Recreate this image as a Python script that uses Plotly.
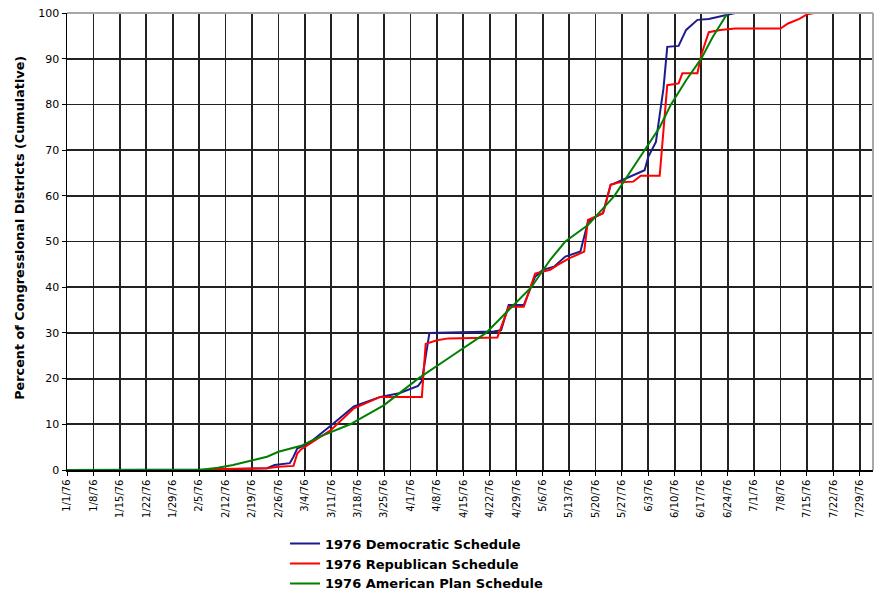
import pandas as pd
import plotly.graph_objects as go

# ---- data ----
tick_labels = ["1/1/76", "1/8/76", "1/15/76", "1/22/76", "1/29/76", "2/5/76", "2/12/76",
               "2/19/76", "2/26/76", "3/4/76", "3/11/76", "3/18/76", "3/25/76", "4/1/76",
               "4/8/76", "4/15/76", "4/22/76", "4/29/76", "5/6/76", "5/13/76", "5/20/76",
               "5/27/76", "6/3/76", "6/10/76", "6/17/76", "6/24/76", "7/1/76", "7/8/76",
               "7/15/76", "7/22/76", "7/29/76"]

dem_dates = ["1976-01-01", "1976-02-10", "1976-02-23", "1976-02-25", "1976-02-29", "1976-03-01",
             "1976-03-02", "1976-03-05", "1976-03-11", "1976-03-17", "1976-03-24", "1976-03-29",
             "1976-04-03", "1976-04-04", "1976-04-06", "1976-04-23", "1976-04-25", "1976-04-27",
             "1976-05-01", "1976-05-04", "1976-05-06", "1976-05-09", "1976-05-12", "1976-05-16",
             "1976-05-18", "1976-05-20", "1976-05-22", "1976-05-24", "1976-05-25", "1976-05-28",
             "1976-06-02", "1976-06-03", "1976-06-05", "1976-06-06", "1976-06-07", "1976-06-08",
             "1976-06-11", "1976-06-13", "1976-06-16", "1976-06-19", "1976-06-24", "1976-06-26",
             "1976-08-01"]
dem_values = [0, 0.1, 0.4, 1.1, 1.5, 2.9,
              4.7, 5.8, 9.8, 13.9, 16.0, 16.8,
              18.4, 19.5, 30.0, 30.3, 30.6, 36.1,
              36.1, 42.3, 43.8, 44.5, 46.7, 47.8,
              54.3, 55.4, 56.2, 62.4, 62.7, 63.8,
              65.6, 68.6, 71.8, 77.7, 83.5, 92.6,
              92.8, 96.3, 98.5, 98.7, 99.6, 100,
              100]

rep_dates = ["1976-01-01", "1976-02-08", "1976-02-10", "1976-02-23", "1976-02-26", "1976-03-01",
             "1976-03-02", "1976-03-03", "1976-03-11", "1976-03-17", "1976-03-24", "1976-04-04",
             "1976-04-05", "1976-04-08", "1976-04-11", "1976-04-24", "1976-04-27", "1976-05-01",
             "1976-05-04", "1976-05-08", "1976-05-10", "1976-05-13", "1976-05-16", "1976-05-17",
             "1976-05-18", "1976-05-20", "1976-05-22", "1976-05-24", "1976-05-26", "1976-05-30",
             "1976-06-01", "1976-06-06", "1976-06-08", "1976-06-11", "1976-06-12", "1976-06-16",
             "1976-06-17", "1976-06-19", "1976-06-22", "1976-06-26", "1976-07-08", "1976-07-10",
             "1976-07-13", "1976-07-15", "1976-07-17", "1976-08-01"]
rep_values = [0, 0, 0.2, 0.4, 0.7, 0.9,
              3.6, 4.5, 8.8, 13.5, 16.0, 16.0,
              27.6, 28.4, 28.8, 29.0, 35.7, 35.7,
              43.0, 43.8, 44.9, 46.3, 47.4, 47.8,
              54.7, 55.4, 56.2, 62.4, 62.9, 63.1,
              64.4, 64.4, 84.2, 84.6, 86.8, 86.8,
              90.8, 95.8, 96.3, 96.6, 96.6, 97.7,
              98.7, 99.7, 100, 100]

amer_dates = ["1976-01-01", "1976-02-05", "1976-02-10", "1976-02-14", "1976-02-20", "1976-02-23",
              "1976-02-26", "1976-03-03", "1976-03-08", "1976-03-16", "1976-03-25", "1976-04-03",
              "1976-04-12", "1976-04-21", "1976-04-27", "1976-05-03", "1976-05-08", "1976-05-12",
              "1976-05-18", "1976-05-25", "1976-05-29", "1976-06-02", "1976-06-06", "1976-06-09",
              "1976-06-13", "1976-06-17", "1976-06-20", "1976-06-24", "1976-08-01"]
amer_values = [0, 0, 0.5, 1.1, 2.3, 2.9,
               4.0, 5.3, 7.3, 10.0, 14.2, 20.0,
               25.0, 30.0, 35.0, 40.0, 46.0, 50.0,
               53.6, 60.0, 65.0, 70.0, 75.0, 80.0,
               85.3, 90.0, 94.7, 100, 100]

series_names = ["1976 Democratic Schedule", "1976 Republican Schedule", "1976 American Plan Schedule"]
series_colors = ["#1c1c8c", "#ff0000", "#008000"]
y_title = "Percent of Congressional Districts (Cumulative)"

tick_vals = pd.to_datetime(tick_labels, format="%m/%d/%y")

# ---- figure ----
fig = go.Figure()
for name, color, xs, ys in zip(series_names, series_colors,
                               [dem_dates, rep_dates, amer_dates],
                               [dem_values, rep_values, amer_values]):
    fig.add_trace(go.Scatter(x=pd.to_datetime(xs), y=ys, mode="lines", name=name,
                             line=dict(color=color, width=2)))

font_family = "DejaVu Sans, Verdana, sans-serif"
fig.update_layout(
    width=876, height=594,
    margin=dict(l=67, r=3, t=13, b=124, autoexpand=False),
    paper_bgcolor="white", plot_bgcolor="white",
    font=dict(family=font_family, color="black", size=11),
    showlegend=True,
    legend=dict(orientation="v", x=0.2705, xanchor="left", xref="paper",
                y=0.110, yanchor="top", yref="container",
                font=dict(size=13, family=font_family, weight="bold"),
                bgcolor="rgba(0,0,0,0)", tracegroupgap=0),
    xaxis=dict(
        type="date",
        range=["1976-01-01", "1976-08-01 12:00"],
        tickvals=tick_vals, ticktext=tick_labels,
        tickangle=-90, tickfont=dict(size=10),
        showgrid=True, gridcolor="#222222", gridwidth=1.8,
        showline=True, linecolor="black", linewidth=1.5,
        ticks="outside", ticklen=4, tickcolor="black",
        zeroline=False, automargin=False,
    ),
    yaxis=dict(
        range=[0, 100], dtick=10, tick0=0,
        tickfont=dict(size=11),
        showgrid=True, gridcolor="#222222", gridwidth=1.8,
        showline=True, linecolor="black", linewidth=1.5,
        ticks="outside", ticklen=4, tickcolor="black",
        zeroline=False, automargin=False,
    ),
)

# y axis title as a rotated annotation (placed slightly above plot centre like the original)
fig.add_annotation(text=y_title, xref="paper", yref="paper", x=0, y=0.53,
                   xanchor="center", yanchor="middle", xshift=-47, textangle=-90,
                   showarrow=False, font=dict(size=12.8, weight="bold", family=font_family))

# grey plot-area border on top and right
fig.add_shape(type="line", xref="paper", yref="paper", x0=0, x1=1, y0=1, y1=1,
              line=dict(color="#a8a8a8", width=2), layer="above")
fig.add_shape(type="line", xref="paper", yref="paper", x0=1, x1=1, y0=0, y1=1,
              line=dict(color="#a8a8a8", width=2), layer="above")

fig.write_html("out.html", config={"displayModeBar": False, "staticPlot": True},
               post_script="document.body.style.margin='0';document.body.style.overflow='hidden';")
